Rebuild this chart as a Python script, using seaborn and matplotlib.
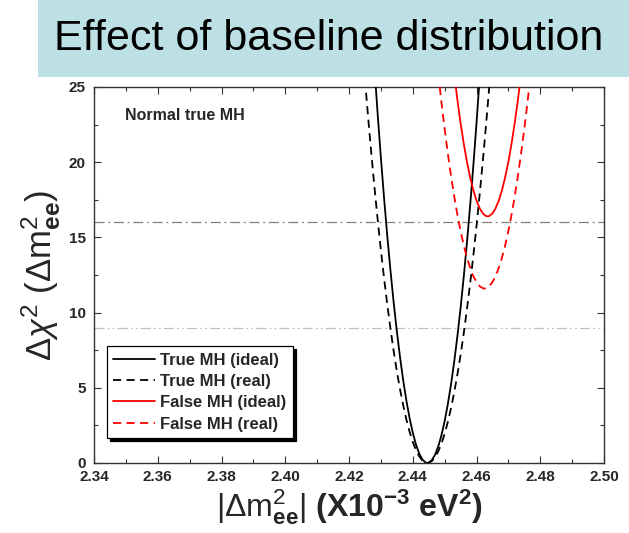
import matplotlib
matplotlib.use("Agg")
import matplotlib.pyplot as plt
import seaborn as sns
import pandas as pd
from matplotlib.patches import Rectangle
from matplotlib.ticker import MultipleLocator

sns.set_style("ticks")
plt.rcParams['font.family'] = ['Liberation Sans', 'DejaVu Sans']
plt.rcParams['mathtext.fontset'] = 'custom'
plt.rcParams['mathtext.rm'] = 'Liberation Sans'
plt.rcParams['mathtext.it'] = 'Liberation Sans:italic'
plt.rcParams['mathtext.bf'] = 'Liberation Sans:bold'

# ---- data ----
true_ideal_x = [2.428, 2.429, 2.430, 2.431, 2.432, 2.433, 2.434, 2.435, 2.436, 2.437,
                2.438, 2.439, 2.440, 2.441, 2.442, 2.443, 2.444, 2.4446, 2.445, 2.446,
                2.447, 2.448, 2.449, 2.450, 2.451, 2.452, 2.453, 2.454, 2.455, 2.456,
                2.457, 2.458, 2.459, 2.460, 2.461]
true_ideal_y = [26.25, 23.18, 20.31, 17.62, 15.12, 12.82, 10.70, 8.78, 7.05, 5.50,
                4.15, 2.99, 2.02, 1.23, 0.64, 0.24, 0.03, 0.0, 0.02, 0.19,
                0.55, 1.10, 1.84, 2.78, 3.90, 5.22, 6.72, 8.42, 10.30, 12.38,
                14.65, 17.10, 19.75, 22.59, 25.62]

true_real_x = [2.425, 2.426, 2.427, 2.428, 2.429, 2.430, 2.431, 2.432, 2.433, 2.434,
               2.435, 2.436, 2.437, 2.438, 2.439, 2.440, 2.441, 2.442, 2.443, 2.444,
               2.4446, 2.445, 2.446, 2.447, 2.448, 2.449, 2.450, 2.451, 2.452, 2.453,
               2.454, 2.455, 2.456, 2.457, 2.458, 2.459, 2.460, 2.461, 2.462, 2.463,
               2.464, 2.465]
true_real_y = [25.52, 22.98, 20.58, 18.30, 16.17, 14.16, 12.29, 10.55, 8.94, 7.46,
               6.12, 4.91, 3.84, 2.89, 2.08, 1.41, 0.86, 0.45, 0.17, 0.02,
               0.0, 0.01, 0.13, 0.38, 0.77, 1.29, 1.94, 2.72, 3.64, 4.69,
               5.87, 7.18, 8.63, 10.21, 11.93, 13.77, 15.75, 17.87, 20.11, 22.49,
               25.00, 27.64]

false_ideal_x = [2.453, 2.454, 2.455, 2.456, 2.457, 2.458, 2.459, 2.460, 2.461, 2.462,
                 2.463, 2.4635, 2.464, 2.465, 2.466, 2.467, 2.468, 2.469, 2.470, 2.471,
                 2.472, 2.473, 2.474]
false_ideal_y = [25.88, 24.16, 22.61, 21.24, 20.03, 19.00, 18.14, 17.45, 16.94, 16.59,
                 16.42, 16.40, 16.42, 16.59, 16.94, 17.45, 18.14, 19.00, 20.03, 21.24,
                 22.61, 24.16, 25.88]

false_real_x = [2.448, 2.449, 2.450, 2.451, 2.452, 2.453, 2.454, 2.455, 2.456, 2.457,
                2.458, 2.459, 2.460, 2.461, 2.462, 2.4625, 2.463, 2.464, 2.465, 2.466,
                2.467, 2.468, 2.469, 2.470, 2.471, 2.472, 2.473, 2.474, 2.475, 2.476,
                2.477]
false_real_y = [25.90, 23.99, 22.23, 20.59, 19.10, 17.74, 16.51, 15.43, 14.47, 13.66,
                12.98, 12.43, 12.03, 11.75, 11.62, 11.60, 11.62, 11.75, 12.03, 12.43,
                12.98, 13.66, 14.47, 15.43, 16.51, 17.74, 19.10, 20.59, 22.23, 23.99,
                25.90]

series_labels = ["True MH (ideal)", "True MH (real)", "False MH (ideal)", "False MH (real)"]
ref_levels = [16, 9]
x_ticks = [2.34, 2.36, 2.38, 2.40, 2.42, 2.44, 2.46, 2.48, 2.50]
y_ticks = [0, 5, 10, 15, 20, 25]

# ---- figure ----
fig = plt.figure(figsize=(6.29, 5.33), dpi=100)
fig.patches.append(Rectangle((38 / 629, 1 - 77 / 533), 1 - 38 / 629, 77 / 533,
                             transform=fig.transFigure, facecolor='#bce0e3',
                             edgecolor='none', zorder=0))
fig.text(329 / 629, 1 - 39 / 533, "Effect of baseline distribution", ha='center',
         va='center', fontsize=31, color='black')

ax = fig.add_axes([94 / 629, 70 / 533, 510 / 629, 376 / 533])

ax.axhline(ref_levels[0], color='#808080', lw=0.9, dashes=(8, 3, 1.5, 3), zorder=1)
ax.axhline(ref_levels[1], color='#c0c0c0', lw=0.9, dashes=(8, 2.5, 1.5, 2.5, 1.5, 2.5), zorder=1)

sets = [
    (true_ideal_x, true_ideal_y, 'black', '-'),
    (true_real_x, true_real_y, 'black', '--'),
    (false_ideal_x, false_ideal_y, 'red', '-'),
    (false_real_x, false_real_y, 'red', '--'),
]
for (xs, ys, c, ls), lab in zip(sets, series_labels):
    df = pd.DataFrame({'x': xs, 'y': ys})
    sns.lineplot(data=df, x='x', y='y', ax=ax, color=c, linestyle=ls, lw=1.3,
                 label=lab, zorder=3)
for line in ax.get_lines()[2:]:
    if line.get_linestyle() == '--':
        line.set_dashes((4.5, 3))

ax.set_xlim(2.34, 2.50)
ax.set_ylim(0, 25)
ax.set_xticks(x_ticks)
ax.set_xticklabels([f"{v:.2f}" for v in x_ticks])
ax.set_yticks(y_ticks)
ax.xaxis.set_minor_locator(MultipleLocator(0.01))
ax.yaxis.set_minor_locator(MultipleLocator(2.5))
ax.tick_params(which='both', direction='in', top=True, right=True, color='#333333',
               width=0.8)
ax.tick_params(which='major', length=5, labelsize=11)
ax.tick_params(which='minor', length=3)
ax.tick_params(axis='x', which='major', pad=5)
ax.tick_params(axis='y', which='major', pad=6)
for lab in ax.get_xticklabels() + ax.get_yticklabels():
    lab.set_fontweight('bold')
for sp in ax.spines.values():
    sp.set_color('#333333')
    sp.set_linewidth(1.0)

ax.set_xlabel(r'$|\Delta \mathrm{m}^2_{\mathbf{ee}}|$ $\mathbf{(X10^{-3}\ eV^2)}$',
              fontsize=23, labelpad=2)
ax.set_ylabel(r'$\Delta\chi^2$ $(\Delta \mathrm{m}^2_{\mathbf{ee}})$', fontsize=25, labelpad=4)

ax.text(0.06, 0.925, "Normal true MH", transform=ax.transAxes, fontsize=11.5,
        fontweight='bold', va='center', ha='left')

leg = ax.legend(loc='lower left', bbox_to_anchor=(0.025, 0.066), borderaxespad=0,
                fancybox=False, framealpha=1, edgecolor='black',
                shadow={'color': 'black', 'alpha': 1},
                handlelength=2.5, handletextpad=0.3, borderpad=0.4,
                labelspacing=0.38, prop={'weight': 'bold', 'size': 12})
leg.get_frame().set_linewidth(0.9)

fig.savefig("out.png", dpi=100)
